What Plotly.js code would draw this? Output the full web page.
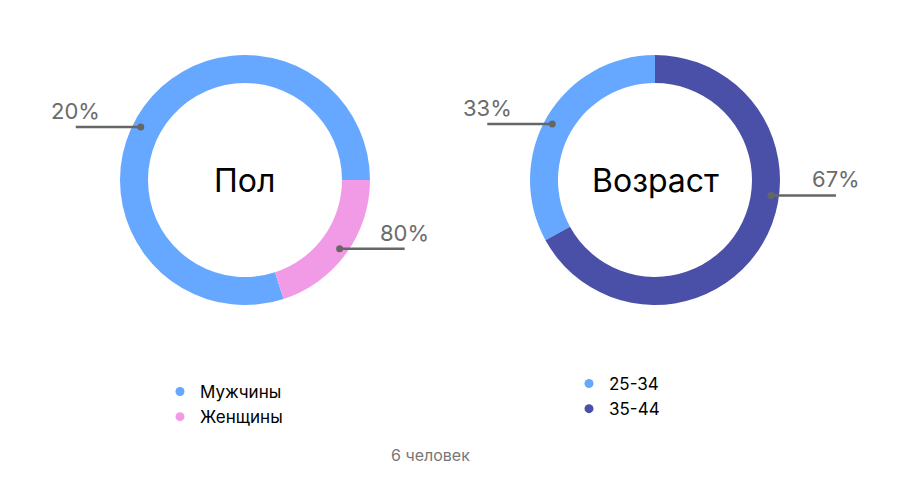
<!DOCTYPE html>
<html>
<head>
<meta charset="utf-8">
<script src="https://cdn.plot.ly/plotly-3.0.1.min.js"></script>
<style>html,body{margin:0;padding:0;background:#fff}#chart{width:900px;height:480px}</style>
</head>
<body>
<div id="chart"></div>
<script>
// ---- data ----
const genderLabels = ['Мужчины', 'Женщины'];
const genderValues = [80, 20];
const genderPctText = ['20%', '80%'];
const ageLabels = ['25-34', '35-44'];
const ageValues = [33, 67];
const agePctText = ['33%', '67%'];
const centerTitles = ['Пол', 'Возраст'];
const footerText = '6 человек';

// ---- layout / style config ----
const W = 900, H = 480;
const FONT = 'Inter, Roboto, "Noto Sans", sans-serif';
const charts = [
  { title: centerTitles[0], labels: genderLabels, values: genderValues, texts: genderPctText,
    colors: ['#66a8ff', '#f19be7'], cx: 245, cy: 180, R: 125, start: 90, nudge: [-9, 0],
    legendId: 'legend' },
  { title: centerTitles[1], labels: ageLabels, values: ageValues, texts: agePctText,
    colors: ['#66a8ff', '#4a50a8'], cx: 655, cy: 180, R: 125, start: 0, nudge: [-2, -23],
    legendId: 'legend2' }
];
const DOT_R = 117, LINE_LEN = 65;
const px = x => x / W;
const py = y => 1 - y / H;

const traces = [];
const shapes = [];
const annotations = [];

charts.forEach((c, ci) => {
  const total = c.values.reduce((a, b) => a + b, 0);
  // slices run counterclockwise from c.start (degrees clockwise from 12 o'clock)
  let rot = c.start - c.values[0] / total * 360;
  while (rot < -180) rot += 360;
  traces.push({
    type: 'pie', labels: c.labels, values: c.values, sort: false,
    direction: 'counterclockwise', rotation: rot, hole: 0.776,
    marker: { colors: c.colors, line: { width: 0 } },
    textinfo: 'none', hoverinfo: 'label+percent', showlegend: false,
    domain: { x: [px(c.cx - c.R), px(c.cx + c.R)], y: [py(c.cy + c.R), py(c.cy - c.R)] }
  });
  // legend entries with round markers
  c.labels.forEach((lab, i) => {
    traces.push({
      type: 'scatter', mode: 'markers', x: [null], y: [null], name: lab,
      marker: { color: c.colors[i], size: 9 }, legend: c.legendId, showlegend: true,
      hoverinfo: 'skip'
    });
  });
  // leader lines and labels computed from slice mid-angles
  let cum = 0;
  c.values.forEach((v, i) => {
    const mid = c.start - (cum + v / 2) / total * 360 + c.nudge[i];
    cum += v;
    const a = mid * Math.PI / 180;
    const dx = c.cx + DOT_R * Math.sin(a);
    const dy = c.cy - DOT_R * Math.cos(a);
    const dir = dx < c.cx ? -1 : 1;
    const ex = dx + dir * LINE_LEN;
    shapes.push({ type: 'line', xref: 'paper', yref: 'paper', layer: 'above',
      x0: px(dx), y0: py(dy), x1: px(ex), y1: py(dy), line: { color: '#666666', width: 2.5 } });
    shapes.push({ type: 'circle', xref: 'paper', yref: 'paper', layer: 'above',
      x0: px(dx - 3.5), x1: px(dx + 3.5), y0: py(dy + 3.5), y1: py(dy - 3.5),
      fillcolor: '#666666', line: { width: 0 } });
    annotations.push({ xref: 'paper', yref: 'paper', x: px(ex), y: py(dy - 1),
      xanchor: 'center', yanchor: 'bottom', text: c.texts[i], showarrow: false,
      font: { family: FONT, size: 22, color: '#6b6b6b' } });
  });
  annotations.push({ xref: 'paper', yref: 'paper', x: px(c.cx), y: py(c.cy),
    xanchor: 'center', yanchor: 'middle', text: c.title, showarrow: false,
    font: { family: FONT, size: 32, color: '#000000' } });
});

annotations.push({ xref: 'paper', yref: 'paper', x: px(430), y: py(455), xanchor: 'center', yanchor: 'middle',
  text: footerText, showarrow: false, font: { family: FONT, size: 16, color: '#777777' } });

const legendStyle = { font: { family: FONT, size: 17, color: '#000000' }, bgcolor: 'rgba(0,0,0,0)',
  orientation: 'v', itemwidth: 30, xanchor: 'left', yanchor: 'top', tracegroupgap: 0 };

const layout = {
  width: W, height: H, margin: { l: 0, r: 0, t: 0, b: 0 },
  paper_bgcolor: '#ffffff', plot_bgcolor: '#ffffff',
  xaxis: { visible: false, range: [0, 1], fixedrange: true },
  yaxis: { visible: false, range: [0, 1], fixedrange: true },
  legend: Object.assign({}, legendStyle, { x: px(160), y: py(374) }),
  legend2: Object.assign({}, legendStyle, { x: px(569), y: py(366) }),
  shapes: shapes, annotations: annotations, showlegend: true,
  font: { family: FONT }
};

Plotly.newPlot('chart', traces, layout, { displayModeBar: false, staticPlot: true });
</script>
</body>
</html>
